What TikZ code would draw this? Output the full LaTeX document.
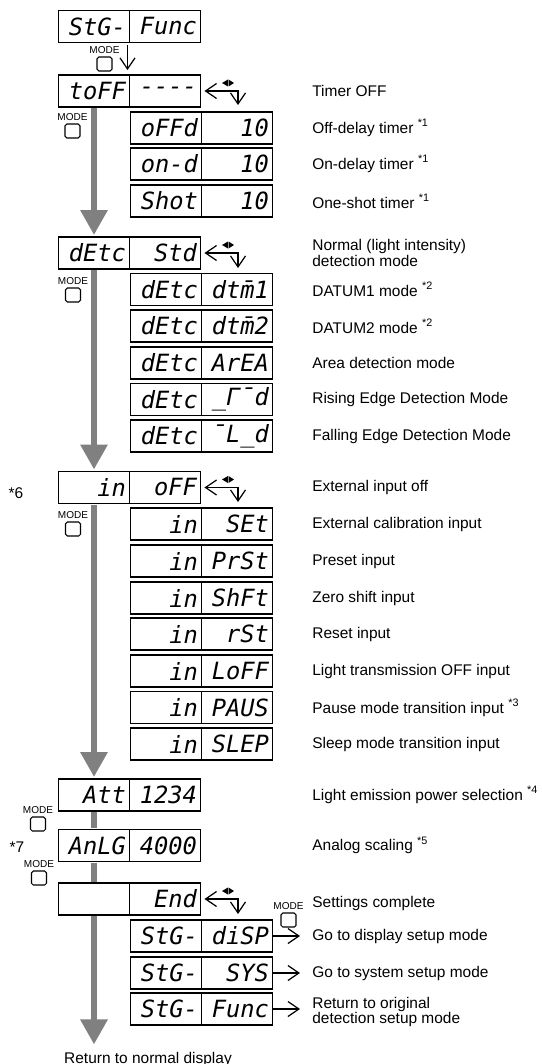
\documentclass[tikz,border=0pt]{standalone}
\usepackage{fontspec}
\setmainfont{Liberation Sans}
\newfontfamily\lcdfont{DejaVu Sans Mono}
\usepackage{tikz}
\usetikzlibrary{arrows.meta, positioning, calc}
\definecolor{FlowGray}{RGB}{128, 128, 128}

\begin{document}
\begin{tikzpicture}[
    x=0.02cm, y=-0.02cm,
    cell/.style={
      rectangle, draw, line width=0.7pt, outer sep=0pt,
      minimum width=1.42cm, minimum height=0.64cm,
      inner xsep=0.07cm, inner ysep=0pt, text width=1.28cm, align=right,
      font=\lcdfont\itshape\fontsize{13.5}{14}\selectfont
    },
    lab/.style={anchor=west, inner sep=0pt, align=left,
      font=\fontsize{8.8}{8.6}\selectfont},
    modebtn/.style={
      draw, line width=0.6pt, rounded corners=1pt,
      minimum width=0.30cm, minimum height=0.28cm, inner sep=0pt,
      label={[font=\fontsize{5.7}{6}\selectfont, inner sep=0pt,
              label distance=1.5pt]above:MODE}
    },
    flow/.style={line width=0.12cm, draw=FlowGray,
      -{Triangle[length=0.5cm, width=0.52cm]},
      shorten <=0.7pt, shorten >=0.04cm},
    bar/.style={line width=0.12cm, draw=FlowGray, shorten <=0.7pt, shorten >=0.7pt},
    thinarr/.style={line width=0.7pt,
      -{Straight Barb[length=0.22cm, width=0.3cm]}},
    cycarr/.style={line width=0.7pt,
      {Straight Barb[length=0.22cm, width=0.3cm]}-{Straight Barb[length=0.22cm, width=0.3cm]},
      shorten <=0.08cm},
    cycler/.pic={
      \fill (-16,-8) -- (-10,-11.5) -- (-10,-4.5) -- cycle;
      \fill (-4,-8) -- (-9.5,-11.5) -- (-9.5,-4.5) -- cycle;
    }
  ]
    \useasboundingbox (0,0) rectangle (541,1064);

    % main column
    \node[cell] (stgl) at (94,26.5) {StG-};
    \node[cell, right=0pt of stgl] (stgr) {Func};
    \node[cell] (toffl) at (94,91) {toFF};
    \node[cell, right=0pt of toffl] (toffr) {-{}-{}-{}-};
    \node[cell] (detcl) at (94,253) {dEtc};
    \node[cell, right=0pt of detcl] (detcr) {Std};
    \node[cell] (inl) at (94,487.5) {in};
    \node[cell, right=0pt of inl] (inr) {oFF};
    \node[cell] (attl) at (94,795) {Att};
    \node[cell, right=0pt of attl] (attr) {1234};
    \node[cell] (anlgl) at (94,845.5) {AnLG};
    \node[cell, right=0pt of anlgl] (anlgr) {4000};
    \node[cell] (endl) at (94,899) {};
    \node[cell, right=0pt of endl] (endr) {End};

    % timer settings
    \node[cell] (offdl) at (166,128) {oFFd};
    \node[cell, right=0pt of offdl] (offdr) {10};
    \node[cell] (ondl) at (166,164) {on-d};
    \node[cell, right=0pt of ondl] (ondr) {10};
    \node[cell] (shotl) at (166,201) {Shot};
    \node[cell, right=0pt of shotl] (shotr) {10};

    % detection modes
    \node[cell] (dtm1l) at (166,289.5) {dEtc};
    \node[cell, right=0pt of dtm1l] (dtm1r) {dt\rlap{¯}m1};
    \node[cell] (dtm2l) at (166,326) {dEtc};
    \node[cell, right=0pt of dtm2l] (dtm2r) {dt\rlap{¯}m2};
    \node[cell] (areal) at (166,363) {dEtc};
    \node[cell, right=0pt of areal] (arear) {ArEA};
    \node[cell] (risel) at (166,399.5) {dEtc};
    \node[cell, right=0pt of risel] (riser) {\_Γ¯d};
    \node[cell] (falll) at (166,436) {dEtc};
    \node[cell, right=0pt of falll] (fallr) {¯L\_d};

    % external input
    \node[cell] (setl) at (166,524) {in};
    \node[cell, right=0pt of setl] (setr) {SEt};
    \node[cell] (prstl) at (166,561) {in};
    \node[cell, right=0pt of prstl] (prstr) {PrSt};
    \node[cell] (shftl) at (166,598) {in};
    \node[cell, right=0pt of shftl] (shftr) {ShFt};
    \node[cell] (rstl) at (166,634) {in};
    \node[cell, right=0pt of rstl] (rstr) {rSt};
    \node[cell] (loffl) at (166,671) {in};
    \node[cell, right=0pt of loffl] (loffr) {LoFF};
    \node[cell] (pausl) at (166,707.5) {in};
    \node[cell, right=0pt of pausl] (pausr) {PAUS};
    \node[cell] (slepl) at (166,744) {in};
    \node[cell, right=0pt of slepl] (slepr) {SLEP};

    % end of settings
    \node[cell] (displ) at (166,936) {StG-};
    \node[cell, right=0pt of displ] (dispr) {diSP};
    \node[cell] (sysl) at (166,973) {StG-};
    \node[cell, right=0pt of sysl] (sysr) {SYS};
    \node[cell] (funcl) at (166,1009) {StG-};
    \node[cell, right=0pt of funcl] (funcr) {Func};

    % MODE keys
    \node[modebtn] (mtop)  at (104.5,64) {};
    \node[modebtn] (mtoff) at (72.5,131) {};
    \node[modebtn] (mdetc) at (73,295) {};
    \node[modebtn] (min)   at (73,529) {};
    \node[modebtn] (matt)  at (38,824) {};
    \node[modebtn] (manlg) at (39,878) {};
    \node[modebtn] (mend)  at (288.5,920) {};

    \node[lab, anchor=center] (star6) at (16,493) {*6};
    \node[lab, anchor=center] (star7) at (17,847) {*7};

    % descriptions
    \node[lab] (ltoff) at (312,91)    {Timer OFF};
    \node[lab] (loffd) at (312,128)   {Off-delay timer \textsuperscript{*1}};
    \node[lab] (lond)  at (312,164)   {On-delay timer \textsuperscript{*1}};
    \node[lab] (lshot) at (312,201)   {One-shot timer \textsuperscript{*1}};
    \node[lab] (lstd)  at (312,253)   {Normal (light intensity)\\detection mode};
    \node[lab] (ldtm1) at (312,289.5) {DATUM1 mode \textsuperscript{*2}};
    \node[lab] (ldtm2) at (312,326)   {DATUM2 mode \textsuperscript{*2}};
    \node[lab] (larea) at (312,363)   {Area detection mode};
    \node[lab] (lrise) at (312,399.5) {Rising Edge Detection Mode};
    \node[lab] (lfall) at (312,436)   {Falling Edge Detection Mode};
    \node[lab] (lin)   at (312,487.5) {External input off};
    \node[lab] (lset)  at (312,524)   {External calibration input};
    \node[lab] (lprst) at (312,561)   {Preset input};
    \node[lab] (lshft) at (312,598)   {Zero shift input};
    \node[lab] (lrst)  at (312,634)   {Reset input};
    \node[lab] (lloff) at (312,671)   {Light transmission OFF input};
    \node[lab] (lpaus) at (312,707.5) {Pause mode transition input \textsuperscript{*3}};
    \node[lab] (lslep) at (312,744)   {Sleep mode transition input};
    \node[lab] (latt)  at (312,795)   {Light emission power selection \textsuperscript{*4}};
    \node[lab] (lanlg) at (312,845.5) {Analog scaling \textsuperscript{*5}};
    \node[lab] (lend)  at (312,903)   {Settings complete};
    \node[lab] (ldisp) at (312,936)   {Go to display setup mode};
    \node[lab] (lsys)  at (312,973)   {Go to system setup mode};
    \node[lab] (lfunc) at (312,1012)  {Return to original\\detection setup mode};
    \node[lab, anchor=center] (ret) at (148,1059) {Return to normal display};

    % main flow
    \draw[thinarr, shorten <=0.06cm, shorten >=0.1cm]
      ([xshift=-0.04cm]stgl.south east) -- ([xshift=-0.04cm]toffl.north east);
    \draw[flow] (toffl.south) -- (detcl.north);
    \draw[flow] (detcl.south) -- (inl.north);
    \draw[flow] (inl.south) -- (attl.north);
    \draw[bar] (attl.south) -- (anlgl.north);
    \draw[bar] (anlgl.south) -- (endl.north);
    \draw[flow, shorten >=0.14cm] (endl.south) -- (endl.south |- ret.north);

    % cycling with the arrow keys
    \coordinate (toffk) at (238,105);
    \coordinate (detck) at (238,268);
    \coordinate (ink)   at (238,502);
    \coordinate (endk)  at (238,914);
    \draw[cycarr] (toffr.east) -| (toffk);
    \draw[cycarr] (detcr.east) -| (detck);
    \draw[cycarr] (inr.east) -| (ink);
    \draw[cycarr] (endr.east) -| (endk);
    \pic at (238,91) {cycler};
    \pic at (238,253) {cycler};
    \pic at (238,487.5) {cycler};
    \pic at (238,899) {cycler};

    % leaving the mode
    \draw[thinarr, shorten >=0.24cm] (dispr.east) -- (dispr.east -| ldisp.west);
    \draw[thinarr, shorten >=0.24cm] (sysr.east) -- (sysr.east -| lsys.west);
    \draw[thinarr, shorten >=0.24cm] (funcr.east) -- (funcr.east -| lfunc.west);
  \end{tikzpicture}
\end{document}
